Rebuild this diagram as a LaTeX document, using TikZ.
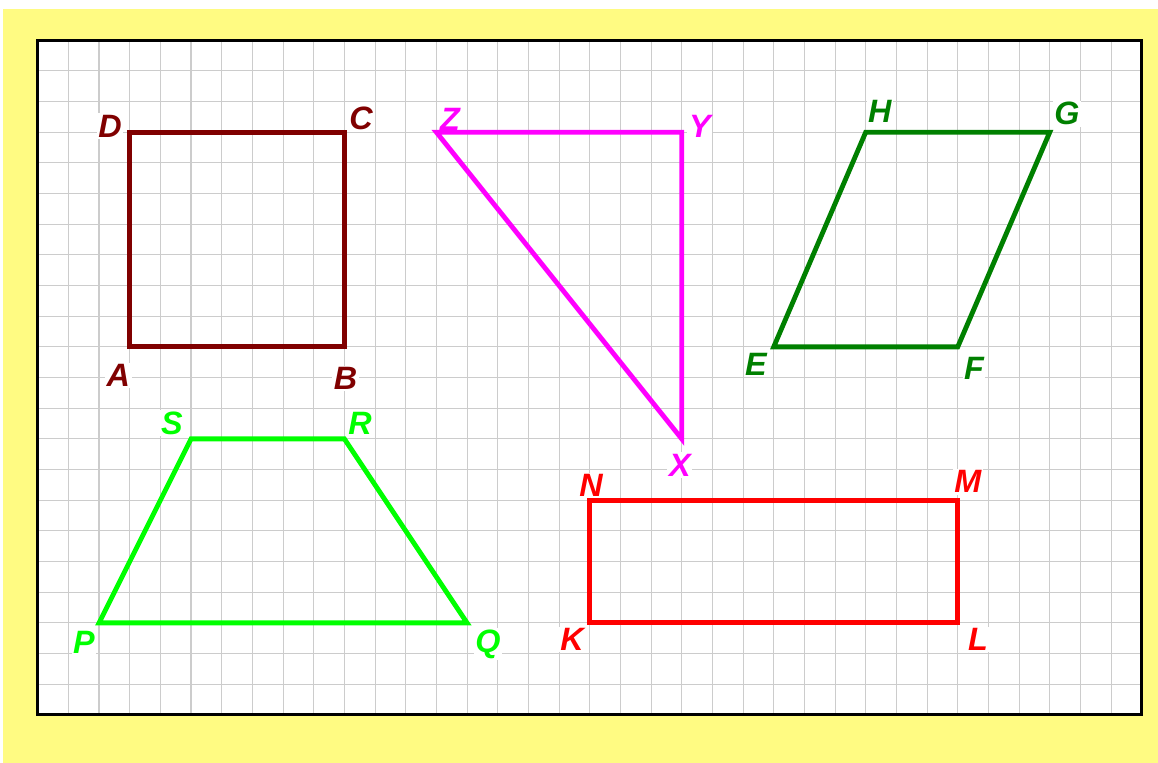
\documentclass[tikz,border=0pt]{standalone}
\usepackage{fontspec}
\setmainfont{Liberation Sans}
\usepackage{tikz}

\definecolor{paper}{RGB}{255,251,130}
\definecolor{sqcol}{RGB}{128,0,0}
\definecolor{tricol}{RGB}{255,0,255}
\definecolor{parcol}{RGB}{0,128,0}
\definecolor{trapcol}{RGB}{0,255,0}
\definecolor{rectcol}{RGB}{255,0,0}

\begin{document}
\begin{tikzpicture}[x=1cm,y=1cm,
  gridline/.style={black!20,line width=1pt},
  shapeline/.style={line width=4.5pt},
  lbl/.style={fill=white,inner sep=1.5pt,font=\fontsize{30}{32}\selectfont\bfseries\itshape}]
\useasboundingbox (-1.229,-1.565) rectangle (36.53,23.31);
\fill[paper] (-1.13,-1.565) rectangle (36.53,23.02);
\fill[white] (0,0) rectangle (36,22);
\draw[gridline] (0,0) grid (36,22);
\draw[line width=3pt] (0,0) rectangle (36,22);
\coordinate (A) at (3,12);  \coordinate (B) at (10,12);
\coordinate (C) at (10,19); \coordinate (D) at (3,19);
\coordinate (X) at (21,9);  \coordinate (Y) at (21,19); \coordinate (Z) at (13,19);
\coordinate (E) at (24,12); \coordinate (F) at (30,12);
\coordinate (G) at (33,19); \coordinate (H) at (27,19);
\coordinate (P) at (2,3);   \coordinate (Q) at (14,3);
\coordinate (R) at (10,9);  \coordinate (S) at (5,9);
\coordinate (K) at (18,3);  \coordinate (L) at (30,3);
\coordinate (M) at (30,7);  \coordinate (N) at (18,7);
\foreach \p/\dx/\dy in {A/-0.37/-0.93,B/0.04/-1.03,C/0.54/0.44,D/-0.64/0.2}
  \node[lbl,text=sqcol] (l\p) at ([shift={(\dx,\dy)}]\p) {\p};
\foreach \p/\dx/\dy in {X/-0.06/-0.85,Y/0.59/0.2,Z/0.44/0.43}
  \node[lbl,text=tricol] (l\p) at ([shift={(\dx,\dy)}]\p) {\p};
\foreach \p/\dx/\dy in {E/-0.58/-0.56,F/0.53/-0.69,G/0.56/0.6,H/0.46/0.69}
  \node[lbl,text=parcol] (l\p) at ([shift={(\dx,\dy)}]\p) {\p};
\foreach \p/\dx/\dy in {P/-0.49/-0.62,Q/0.68/-0.69,R/0.51/0.52,S/-0.62/0.52}
  \node[lbl,text=trapcol] (l\p) at ([shift={(\dx,\dy)}]\p) {\p};
\foreach \p/\dx/\dy in {K/-0.58/-0.55,L/0.66/-0.55,M/0.33/0.6,N/0.04/0.47}
  \node[lbl,text=rectcol] (l\p) at ([shift={(\dx,\dy)}]\p) {\p};
\draw[shapeline,sqcol] (A) -- (B) -- (C) -- (D) -- cycle;
\draw[shapeline,tricol] (X) -- (Y) -- (Z) -- cycle;
\draw[shapeline,parcol] (E) -- (F) -- (G) -- (H) -- cycle;
\draw[shapeline,trapcol] (P) -- (Q) -- (R) -- (S) -- cycle;
\draw[shapeline,rectcol] (K) -- (L) -- (M) -- (N) -- cycle;
\end{tikzpicture}
\end{document}
